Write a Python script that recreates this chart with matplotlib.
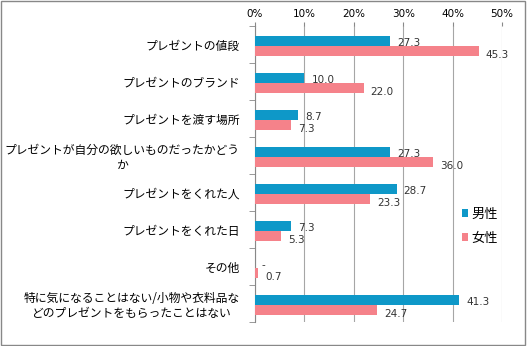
import numpy as np
import matplotlib
matplotlib.use("Agg")
from matplotlib import pyplot as plt
from matplotlib.patches import Rectangle

plt.rcParams['font.family'] = ['Noto Sans CJK JP', 'DejaVu Sans']

categories = [
    "プレゼントの値段",
    "プレゼントのブランド",
    "プレゼントを渡す場所",
    "プレゼントが自分の欲しいものだったかどう\nか",
    "プレゼントをくれた人",
    "プレゼントをくれた日",
    "その他",
    "特に気になることはない/小物や衣料品な\nどのプレゼントをもらったことはない",
]
male = [27.3, 10.0, 8.7, 27.3, 28.7, 7.3, 0.0, 41.3]
female = [45.3, 22.0, 7.3, 36.0, 23.3, 5.3, 0.7, 24.7]
male_labels = ["27.3", "10.0", "8.7", "27.3", "28.7", "7.3", "-", "41.3"]
female_labels = ["45.3", "22.0", "7.3", "36.0", "23.3", "5.3", "0.7", "24.7"]

blue = "#0E98C8"
pink = "#F5828A"

fig = plt.figure(figsize=(5.27, 3.46), dpi=100)
ax = fig.add_axes([255 / 527, 1 - 322 / 346, 247 / 527, 296 / 346])

y = np.arange(len(categories))
h = 0.28
ax.barh(y - h / 2 + 0.04, male, height=h, color=blue, label="男性", zorder=3)
ax.barh(y + h / 2 + 0.04, female, height=h, color=pink, label="女性", zorder=3)

for i in range(len(categories)):
    ax.annotate(male_labels[i], (male[i], y[i] - h / 2 + 0.1), xytext=(5, 0),
                textcoords="offset points", va="center", ha="left", fontsize=7.5,
                color="#333333", family="DejaVu Sans")
    ax.annotate(female_labels[i], (female[i], y[i] + h / 2 + 0.15), xytext=(5, 0),
                textcoords="offset points", va="center", ha="left", fontsize=7.5,
                color="#333333", family="DejaVu Sans")

ax.set_xlim(0, 50)
ax.set_ylim(len(categories) - 0.5, -0.5)
ax.xaxis.tick_top()
ax.set_xticks(np.arange(0, 51, 10))
ax.set_xticklabels([f"{v}%" for v in range(0, 51, 10)], fontsize=7.5, family="DejaVu Sans")
ax.tick_params(axis="x", length=3, color="#888888", pad=2)
ax.grid(axis="x", color="#a6a6a6", linewidth=0.8, zorder=0)

ax.set_yticks(y)
ax.set_yticklabels(categories, fontsize=8.5, multialignment="center")
ax.tick_params(axis="y", length=0, pad=11)
ax.set_yticks(np.arange(len(categories) + 1) - 0.5, minor=True)
ax.tick_params(axis="y", which="minor", length=4, color="#888888")

for s in ["top", "right", "bottom"]:
    ax.spines[s].set_visible(False)
ax.spines["left"].set_color("#888888")

fig.legend(loc="upper left", bbox_to_anchor=(455 / 527, 1 - 201 / 346), frameon=False,
           fontsize=9.5, handlelength=0.5, handleheight=0.5, handletextpad=0.25,
           labelspacing=0.85, borderpad=0)

fig.patches.append(Rectangle((0.002, 0.003), 0.995, 0.993, transform=fig.transFigure,
                             fill=False, edgecolor="#888888", linewidth=1))

fig.savefig("out.png", dpi=100)
